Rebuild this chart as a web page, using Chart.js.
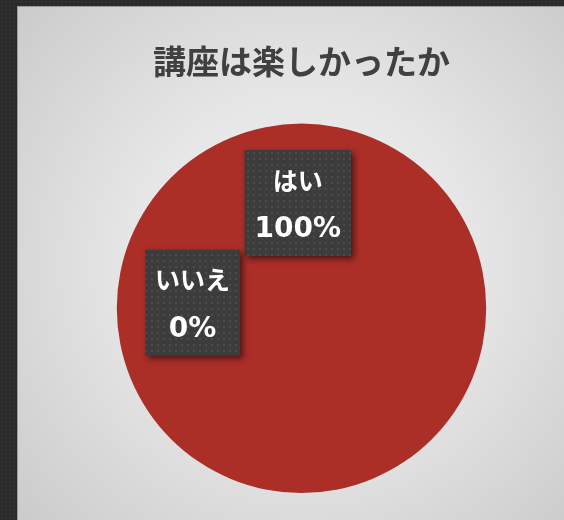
<!DOCTYPE html>
<html lang="ja">
<head>
<meta charset="utf-8">
<title>講座は楽しかったか</title>
<script src="https://cdn.jsdelivr.net/npm/chart.js@4"></script>
<style>
  html, body {
    margin: 0;
    padding: 0;
    width: 564px;
    height: 520px;
    overflow: hidden;
    background-color: #2a2a2a;
    background-image: radial-gradient(rgba(255,255,255,0.04) 1px, transparent 1px);
    background-size: 4px 4px;
  }
  #panel {
    position: absolute;
    left: 17px;
    top: 6px;
    width: 547px;
    height: 514px;
    box-sizing: border-box;
    border-left: 1px solid #9a9a9a;
    border-top: 1px solid #9a9a9a;
    background: radial-gradient(circle at 52% 50%, #f2f2f2 0%, #e6e6e6 45%, #cbcbcb 100%);
  }
</style>
</head>
<body>
<div id="panel"><canvas id="pieChart"></canvas></div>
<script>
  const categories = ["はい", "いいえ"];
  const answers = [100, 0];
  const percentLabels = ["100%", "0%"];

  const FONT = "'Noto Sans CJK JP', 'Noto Sans', sans-serif";
  const NAME_FONT = "bold 25px 'Noto Sans CJK JP', sans-serif";
  const PCT_FONT = "bold 28px 'DejaVu Sans', 'Noto Sans CJK JP', sans-serif";

  // small dotted fill used for the label boxes
  function dotPattern(ctx) {
    const c = document.createElement("canvas");
    c.width = 6;
    c.height = 6;
    const p = c.getContext("2d");
    p.fillStyle = "#3c3c3c";
    p.fillRect(0, 0, 6, 6);
    p.fillStyle = "#4b4b4b";
    p.fillRect(1, 1, 2, 2);
    return ctx.createPattern(c, "repeat");
  }

  // boxed data labels: category name over the percentage
  const boxLabels = {
    id: "boxLabels",
    afterDatasetsDraw(chart) {
      const ctx = chart.ctx;
      const meta = chart.getDatasetMeta(0);
      const arc = meta.data[0];
      const r = arc.outerRadius;
      // where each label sits, relative to the pie centre (in radii)
      const anchors = [
        { dx: -0.02, dy: -0.57 },
        { dx: -0.59, dy: -0.03 }
      ];
      const pattern = dotPattern(ctx);
      ctx.save();
      ctx.textAlign = "center";
      ctx.textBaseline = "middle";
      categories.forEach((name, i) => {
        ctx.font = NAME_FONT;
        const nameW = ctx.measureText(name).width;
        ctx.font = PCT_FONT;
        const pctW = ctx.measureText(percentLabels[i]).width;
        const w = Math.max(nameW, pctW) + 20;
        const h = 106;
        const cx = arc.x + anchors[i].dx * r;
        const cy = arc.y + anchors[i].dy * r;
        ctx.save();
        ctx.shadowColor = "rgba(0,0,0,0.55)";
        ctx.shadowBlur = 6;
        ctx.shadowOffsetX = 3;
        ctx.shadowOffsetY = 3;
        ctx.fillStyle = pattern;
        ctx.fillRect(cx - w / 2, cy - h / 2, w, h);
        ctx.restore();
        ctx.fillStyle = "#ffffff";
        ctx.font = NAME_FONT;
        ctx.fillText(name, cx, cy - 23);
        ctx.font = PCT_FONT;
        ctx.fillText(percentLabels[i], cx, cy + 27);
      });
      ctx.restore();
    }
  };

  new Chart(document.getElementById("pieChart"), {
    type: "pie",
    data: {
      labels: categories,
      datasets: [{
        data: answers,
        backgroundColor: ["#ab2e27", "#c0504d"],
        borderWidth: 0
      }]
    },
    options: {
      responsive: true,
      maintainAspectRatio: false,
      animation: false,
      layout: { padding: { left: 21, right: 0, top: 0, bottom: 27 } },
      plugins: {
        legend: { display: false },
        tooltip: { enabled: false },
        title: {
          display: true,
          text: "講座は楽しかったか",
          color: "#404040",
          font: { family: FONT, size: 33, weight: "bold" },
          padding: { top: 35, bottom: 42 }
        }
      }
    },
    plugins: [boxLabels]
  });
</script>
</body>
</html>
